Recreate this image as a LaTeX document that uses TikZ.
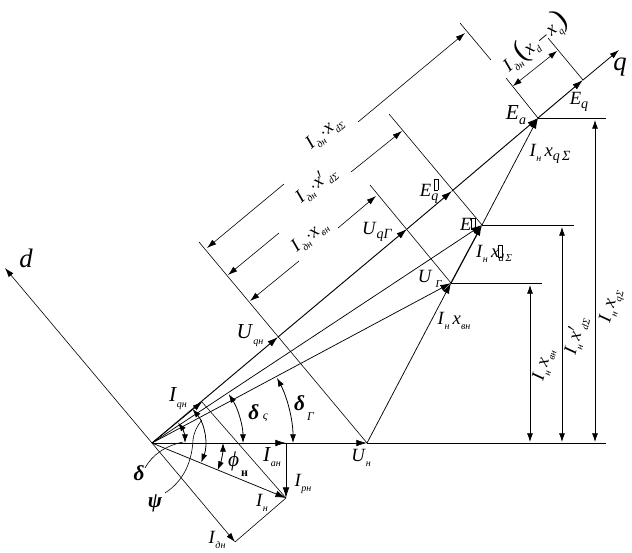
\documentclass[tikz,border=0pt]{standalone}
\usepackage{fontspec}
\setmainfont{Liberation Serif}
\usetikzlibrary{arrows.meta}
\newcommand{\lab}[2]{\textit{#1}\raisebox{-.6ex}{\fontsize{7.5}{8}\selectfont\textit{#2}}}
\newcommand{\labb}[2]{\textit{#1}\raisebox{-.5ex}{\fontsize{10.5}{11}\selectfont\textit{#2}}}
\newcommand{\tofu}{\raisebox{.1ex}{\fboxsep=0pt\fboxrule=.4pt\fbox{\rule{0pt}{8pt}\rule{2.6pt}{0pt}}}}
\tikzset{
  vec/.style={-{Latex[length=8pt,width=5pt]},line width=.7pt},
  thinvec/.style={-{Latex[length=7pt,width=4.5pt]},line width=.45pt},
  dimline/.style={{Latex[length=6.5pt,width=4.5pt]}-{Latex[length=6.5pt,width=4.5pt]},line width=.6pt},
  angarc/.style={{Latex[length=6.5pt,width=4.5pt]}-{Latex[length=6.5pt,width=4.5pt]},line width=.6pt},
  tick/.style={line width=.45pt},
  txt/.style={inner sep=0pt,font=\fontsize{14}{15}\selectfont},
  bigtxt/.style={inner sep=0pt,font=\fontsize{16}{17}\selectfont},
  dimtxt/.style={inner sep=0pt,font=\fontsize{14}{15}\selectfont}
}
\begin{document}
\begin{tikzpicture}[x=0.75pt,y=0.75pt]
  \useasboundingbox (0,0) rectangle (632,-553);
  % points of the diagram
  \coordinate (O) at (152,-443);
  \coordinate (Un) at (367,-443);
  \coordinate (Ug) at (451,-283);
  \coordinate (Ep) at (482,-225);
  \coordinate (Ea) at (538,-118);
  \coordinate (Eq) at (583,-80);
  \coordinate (q) at (619,-50);
  \coordinate (d) at (5,-268);
  \coordinate (In) at (286,-498);
  \coordinate (Ian) at (286,-443);
  \coordinate (Iqn) at (202,-402);
  \coordinate (Idn) at (235,-542);
  \coordinate (Uqn) at (278,-337);
  \coordinate (Uqg) at (407,-229);
  \coordinate (Eqp) at (452,-191);
  % axes and main vectors
  \draw[thinvec] (O) -- (d);
  \draw[vec] (O) -- (Uqn);
  \draw[vec] (Uqn) -- (Uqg);
  \draw[vec] (Uqg) -- (Eqp);
  \draw[vec] (Eqp) -- (Ea);
  \draw[vec] (Ea) -- (Eq);
  \draw[thinvec,line width=.6pt] (Eq) -- (q);
  \draw[vec,line width=.55pt] (O) -- (Ug);
  \draw[vec,line width=.55pt] (O) -- (Ep);
  \draw[vec,line width=.55pt] (O) -- (Un);
  \draw[line width=.7pt] (Un) -- (606,-443);
  \draw[vec,line width=.55pt] (Un) -- (Ug);
  \draw[vec,line width=.9pt] (Ug) -- (Ep);
  \draw[vec,line width=.55pt] (Ep) -- (Ea);
  % currents
  \draw[vec,line width=.55pt] (O) -- (In);
  \draw[vec,line width=.55pt] (O) -- (Ian);
  \draw[vec,line width=.55pt] (Ian) -- (In);
  \draw[thinvec] (O) -- (Iqn);
  \draw[thinvec] (O) -- (Idn);
  \draw[tick] (Iqn) -- (In);
  \draw[tick] (Idn) -- (In);
  % perpendiculars to q
  \draw[tick] (199,-242) -- (Un);
  \draw[tick] (370,-185) -- (Ug);
  \draw[tick] (389,-114) -- (Ep);
  \draw[tick] (506,-78) -- (Ea);
  \draw[tick] (460,-23) -- (491,-60);
  \draw[tick] (548,-38) -- (Eq);
  % dimension lines along q
  \coordinate (a1) at (207,-248);
  \coordinate (a2) at (228,-275);
  \coordinate (a3) at (250,-301);
  \draw[thinvec] (284,-184) -- (a1);
  \draw[thinvec] (358,-122) -- (465,-33);
  \draw[thinvec] (279,-233) -- (a2);
  \draw[thinvec] (351,-172) -- (402,-131);
  \draw[thinvec] (299,-261) -- (a3);
  \draw[thinvec] (338,-228) -- (376,-196);
  \draw[{Latex[length=6.5pt,width=4.5pt]}-{Latex[length=6.5pt,width=4.5pt]},line width=.45pt] (513,-86) -- (557,-51);
  % levels and dimension lines on the right
  \draw[line width=.6pt] (Ug) -- (542,-283);
  \draw[line width=.6pt] (Ep) -- (574,-225);
  \draw[line width=.6pt] (Ea) -- (606,-118);
  \draw[dimline] (530,-285) -- (530,-442);
  \draw[dimline] (562,-227) -- (562,-442);
  \draw[dimline] (595,-120) -- (595,-442);
  % angles
  \coordinate (phi0) at (223,-443);
  \coordinate (dg0) at (293,-443);
  \coordinate (ds0) at (243,-443);
  \coordinate (psi0) at (192.5,-409);
  \coordinate (del0) at (185,-443);
  \draw[angarc] (phi0) arc[start angle=0,end angle=-22.3,radius=71];
  \draw[angarc] (dg0) arc[start angle=0,end angle=27.5,radius=141];
  \draw[angarc] (ds0) arc[start angle=0,end angle=32.5,radius=91];
  \draw[angarc] (psi0) arc[start angle=40,end angle=-21.5,radius=53];
  \draw[angarc] (del0) arc[start angle=0,end angle=38,radius=33];
  % leaders
  \draw[tick] (145,-468) .. controls (152,-455) and (165,-446) .. (183,-442);
  \draw[tick] (165,-493) .. controls (185,-480) and (192,-460) .. (193,-440) .. controls (194,-432) and (197,-426) .. (202,-420);
  % labels
  \node[txt,font=\fontsize{20}{21}\selectfont\itshape] (dlab) at (26,-258) {d};
  \node[txt,font=\fontsize{20}{21}\selectfont\itshape] (qlab) at (620,-67) {q};
  \node[bigtxt] (Ealab) at (516,-115) {\labb{E}{a}};
  \node[txt] (Eqlab) at (579,-102) {\labb{E}{q}};
  \node[txt] (xqlab) at (550,-154) {\lab{I}{н}\,\labb{x}{q\,Σ}};
  \node[txt] (Eqplab) at (429,-191) {\labb{E}{q}\hspace{-3.5pt}\raisebox{4pt}{\tofu}};
  \node[txt] (Eplab) at (468,-224) {\textit{E}\tofu};
  \node[txt] (xdplab) at (494,-254) {\lab{I}{н}\,\textit{x}\hspace{-1pt}\tofu\raisebox{-.5ex}{\fontsize{8}{9}\selectfont\hspace{-3pt}\textit{d\,Σ}}};
  \node[txt] (Uglab) at (430,-279) {\textit{U}\,\raisebox{-.6ex}{\fontsize{8}{9}\selectfont\textit{Г}}};
  \node[txt] (xvnlab) at (454,-321) {\lab{I}{н}\,\lab{x}{вн}};
  \node[txt] (Uqglab) at (377,-232) {\labb{U}{qГ}};
  \node[bigtxt] (Uqnlab) at (250,-336) {\lab{U}{qн}};
  \node[bigtxt] (Iqnlab) at (178,-399) {\lab{I}{qн}};
  \node[bigtxt] (dellab) at (139,-473) {\bfseries\itshape δ};
  \node[bigtxt] (psilab) at (155,-503) {\bfseries\itshape ψ};
  \node[bigtxt] (dslab) at (258,-413) {\bfseries\itshape δ\,\mdseries\fontsize{9}{10}\selectfont ς};
  \node[bigtxt] (dglab) at (304,-408) {\bfseries\itshape δ\mdseries\raisebox{-1ex}{\fontsize{9}{10}\selectfont\,Г}};
  \node[bigtxt] (philab) at (238,-464) {\textit{ϕ}\raisebox{-1.1ex}{\fontsize{9}{10}\selectfont\,\textbf{н}}};
  \node[bigtxt] (Ianlab) at (272,-457) {\lab{I}{ан}};
  \node[txt] (Iprlab) at (303,-484) {\lab{I}{рн}};
  \node[txt] (Inlab) at (262,-503) {\lab{I}{н}};
  \node[txt] (Idnlab) at (217,-540) {\lab{I}{дн}};
  \node[txt] (Unlab) at (361,-458) {\lab{U}{н}};
  % labels that follow the lines
  \node[dimtxt,rotate=40] (dim1) at (325,-133) {\lab{I}{дн}$\cdot$\lab{x}{dΣ}};
  \node[dimtxt,rotate=40] (dim2) at (316,-185) {\lab{I}{дн}$\cdot$\lab{x$'$}{dΣ}};
  \node[dimtxt,rotate=40] (dim3) at (310,-237) {\lab{I}{дн}$\cdot$\lab{x}{вн}};
  \node[dimtxt,rotate=40] (dim4) at (535,-42) {\lab{I}{дн}{\fontsize{22}{23}\selectfont(}\lab{x}{d}\,–\,\lab{x}{q}{\fontsize{22}{23}\selectfont)}};
  \node[dimtxt,rotate=75] (dim5) at (544,-365) {\lab{I}{н}\,\lab{x}{вн}};
  \node[dimtxt,rotate=75] (dim6) at (576,-336) {\lab{I}{н}\,\lab{x$'$}{dΣ}};
  \node[dimtxt,rotate=75] (dim7) at (612,-306) {\lab{I}{н}\,\lab{x}{qΣ}};
\end{tikzpicture}
\end{document}
